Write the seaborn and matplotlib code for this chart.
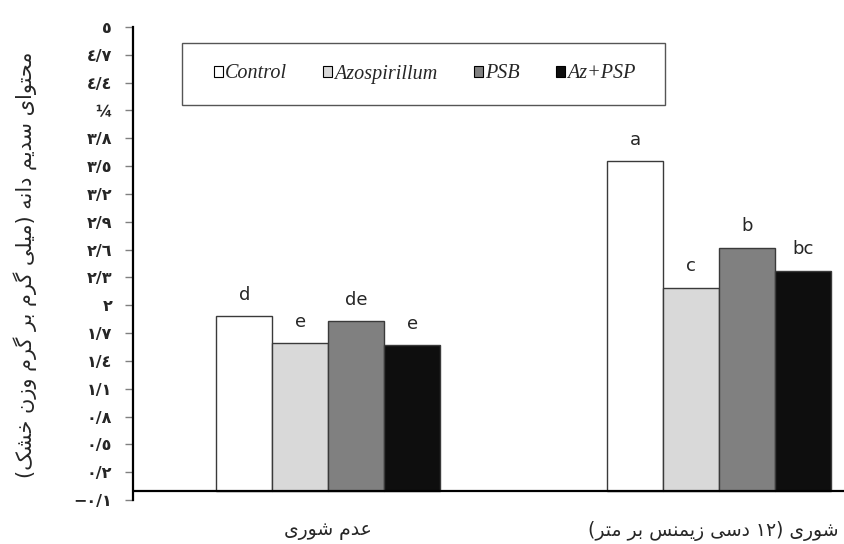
import re
import matplotlib
matplotlib.use("Agg")
import matplotlib.pyplot as plt
from matplotlib.patches import Patch, Rectangle
from matplotlib.transforms import ScaledTranslation
import pandas as pd
import seaborn as sns

# ---- data -------------------------------------------------------------
SALINITY = ["عدم شوری", "شوری (۱۲ دسی زیمنس بر متر)"]
TREATMENTS = ["Control", "Azospirillum", "PSB", "Az+PSP"]
NO_SALT = [1.88, 1.59, 1.83, 1.57]
SALT = [3.55, 2.19, 2.62, 2.37]
LETTERS_NO_SALT = ["d", "e", "de", "e"]
LETTERS_SALT = ["a", "c", "b", "bc"]
Y_TICKS = [-0.1, 0.2, 0.5, 0.8, 1.1, 1.4, 1.7, 2.0, 2.3, 2.6, 2.9, 3.2, 3.5, 3.8, 4.1, 4.4, 4.7, 5.0]
Y_TICK_LABELS = ["−٠/١", "٠/٢", "٠/٥", "٠/٨", "١/١", "١/٤", "١/٧", "٢", "٢/٣", "٢/٦",
                 "٢/٩", "٣/٢", "٣/٥", "٣/٨", "¼", "٤/٤", "٤/٧", "٥"]
Y_LABEL = "محتوای سدیم دانه (میلی گرم بر گرم وزن خشک)"
COLORS = ["#ffffff", "#d9d9d9", "#808080", "#0e0e0e"]

# ---- minimal Persian shaping (matplotlib has no complex text layout) --
FORMS = {  # isolated, final, initial, medial
    "ا": ("\uFE8D", "\uFE8E", None, None),
    "ب": ("\uFE8F", "\uFE90", "\uFE91", "\uFE92"),
    "ت": ("\uFE95", "\uFE96", "\uFE97", "\uFE98"),
    "ح": ("\uFEA1", "\uFEA2", "\uFEA3", "\uFEA4"),
    "خ": ("\uFEA5", "\uFEA6", "\uFEA7", "\uFEA8"),
    "د": ("\uFEA9", "\uFEAA", None, None),
    "ر": ("\uFEAD", "\uFEAE", None, None),
    "ز": ("\uFEAF", "\uFEB0", None, None),
    "س": ("\uFEB1", "\uFEB2", "\uFEB3", "\uFEB4"),
    "ش": ("\uFEB5", "\uFEB6", "\uFEB7", "\uFEB8"),
    "ع": ("\uFEC9", "\uFECA", "\uFECB", "\uFECC"),
    "ل": ("\uFEDD", "\uFEDE", "\uFEDF", "\uFEE0"),
    "م": ("\uFEE1", "\uFEE2", "\uFEE3", "\uFEE4"),
    "ن": ("\uFEE5", "\uFEE6", "\uFEE7", "\uFEE8"),
    "ه": ("\uFEE9", "\uFEEA", "\uFEEB", "\uFEEC"),
    "و": ("\uFEED", "\uFEEE", None, None),
    "ی": ("\uFBFC", "\uFBFD", "\uFBFE", "\uFBFF"),
    "ک": ("\uFB8E", "\uFB8F", "\uFB90", "\uFB91"),
    "گ": ("\uFB92", "\uFB93", "\uFB94", "\uFB95"),
}
DIGITS = r"[0-9\u0660-\u0669\u06F0-\u06F9]+"


def shape(text):
    out = []
    for i, ch in enumerate(text):
        if ch not in FORMS:
            out.append(ch)
            continue
        prev = text[i - 1] if i > 0 else ""
        nxt = text[i + 1] if i + 1 < len(text) else ""
        jp = prev in FORMS and FORMS[prev][2] is not None
        jn = FORMS[ch][2] is not None and nxt in FORMS
        iso, fin, ini, med = FORMS[ch]
        out.append(med if (jp and jn) else fin if jp else ini if jn else iso)
    return "".join(out)


def rtl(text):
    """Shape a right-to-left string and put it into visual order."""
    runs = re.findall(DIGITS + "|.", shape(text))
    mirror = {"(": ")", ")": "("}
    return "".join(mirror.get(r, r) for r in reversed(runs))


# ---- frame ------------------------------------------------------------
df = pd.DataFrame({
    "salinity": [SALINITY[0]] * 4 + [SALINITY[1]] * 4,
    "treatment": TREATMENTS * 2,
    "value": NO_SALT + SALT,
})

sns.set_theme(style="white")
plt.rcParams["font.family"] = ["DejaVu Sans"]

fig = plt.figure(figsize=(8.44, 5.44), dpi=100)
ax = fig.add_axes([133 / 844, 1 - 500 / 544, 1 - 133 / 844, 473 / 544])

sns.barplot(data=df, x="salinity", y="value", hue="treatment",
            order=SALINITY, hue_order=TREATMENTS, palette=COLORS,
            width=0.573, edgecolor="#3a3a3a", linewidth=1.0,
            errorbar=None, legend=False, ax=ax)

for i, cont in enumerate(ax.containers):
    ax.bar_label(cont, labels=[LETTERS_NO_SALT[i], LETTERS_SALT[i]],
                 padding=9, fontsize=13, color="#262626")

ax.set_xlim(-0.5, 1.32)
ax.set_ylim(-0.1, 5.0)
ax.axhline(0, color="black", lw=1.6, zorder=5)

ax.set_yticks(Y_TICKS)
ax.set_yticklabels(Y_TICK_LABELS, fontsize=11.5, fontweight="bold")
ax.tick_params(axis="y", left=True, length=6, width=1, color="#808080", pad=9)
ax.tick_params(axis="x", bottom=False, length=0, pad=15)
ax.set_xticks([0, 1])
ax.set_xticklabels([rtl(s) for s in SALINITY], fontsize=13.5)
xl = ax.get_xticklabels()[1]
xl.set_transform(xl.get_transform() + ScaledTranslation(-0.06, 0, fig.dpi_scale_trans))
ax.set_xlabel("")
ax.set_ylabel("")

for side in ("top", "right", "bottom"):
    ax.spines[side].set_visible(False)
ax.spines["left"].set_color("black")
ax.spines["left"].set_linewidth(1.6)

fig.text(25 / 844, 1 - 265 / 544, rtl(Y_LABEL), rotation=90,
         ha="center", va="center", fontsize=15)

# legend box
lx0, ly0, lw_, lh = 182 / 844, 1 - 105 / 544, 483 / 844, 62 / 544
fig.patches.append(Rectangle((lx0, ly0), lw_, lh, transform=fig.transFigure,
                             facecolor="white", edgecolor="#555555", lw=1.0, zorder=10))
handles = [Patch(facecolor=c, edgecolor="black", lw=0.8) for c in COLORS]
leg = fig.legend(handles, TREATMENTS, loc="center",
                 bbox_to_anchor=(lx0 + lw_ / 2 + 1 / 844, ly0 + lh / 2), ncol=4, frameon=False,
                 prop={"family": "Liberation Serif", "style": "italic", "size": 14.5},
                 handlelength=0.45, handleheight=0.45, handletextpad=0.12,
                 columnspacing=1.78)
leg.set_zorder(11)

fig.savefig("out.png", dpi=100)
